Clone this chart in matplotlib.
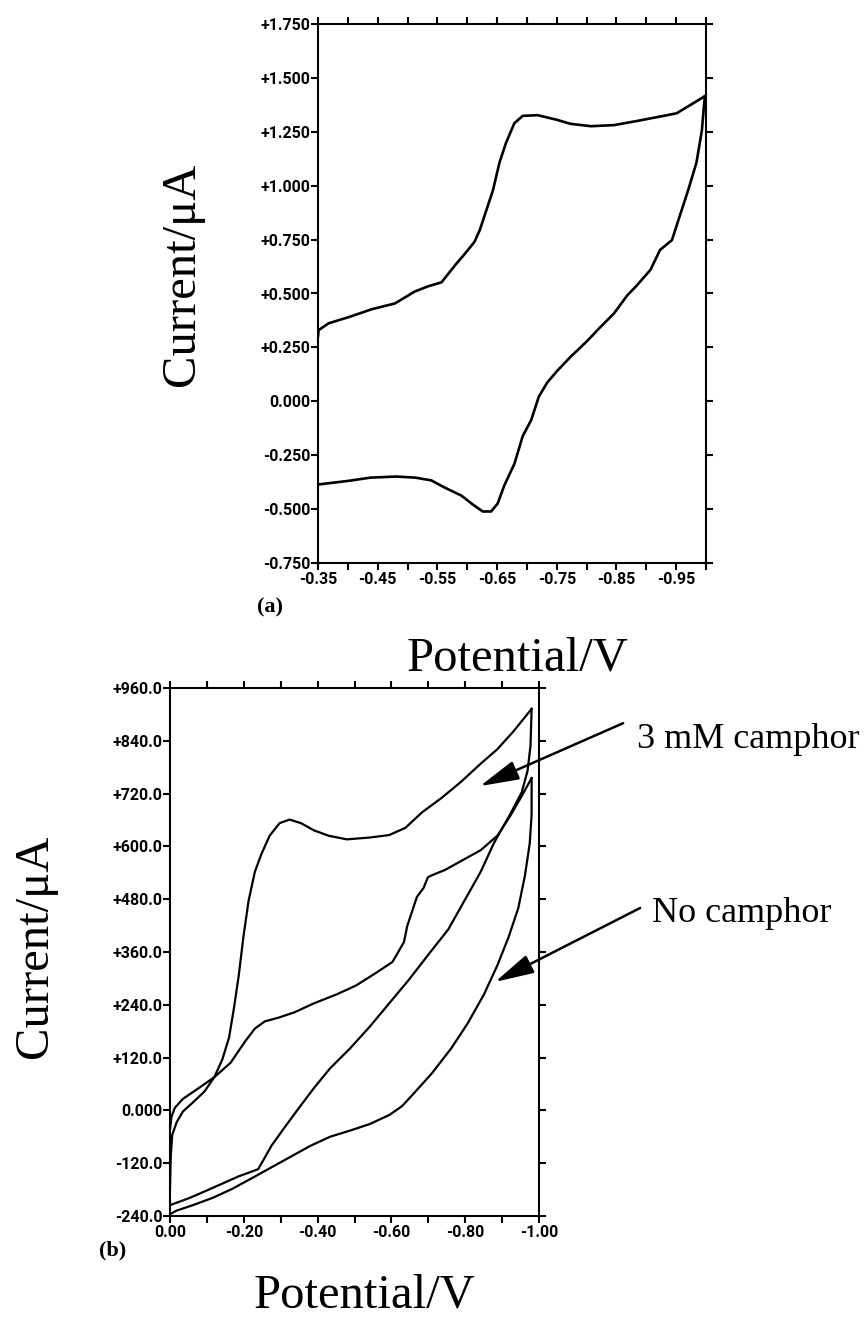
import matplotlib.pyplot as plt

# ---- panel (a): single CV, potential in V, current in uA ----
a_fwd_v = [-0.350, -0.351, -0.368, -0.401, -0.440, -0.479, -0.512, -0.534, -0.557, -0.579,
           -0.596, -0.612, -0.621, -0.632, -0.643, -0.654, -0.665, -0.679, -0.693,
           -0.718, -0.751, -0.773, -0.807, -0.846, -0.884, -0.918, -0.951, -0.973, -0.998]
a_fwd_i = [0.300, 0.330, 0.362, 0.390, 0.427, 0.454, 0.509, 0.533, 0.552, 0.629,
           0.684, 0.739, 0.794, 0.886, 0.978, 1.107, 1.199, 1.290, 1.324,
           1.327, 1.305, 1.287, 1.276, 1.281, 1.300, 1.318, 1.336, 1.373, 1.415]

a_rev_v = [-0.998, -0.993, -0.984, -0.970, -0.957, -0.943, -0.923, -0.907, -0.884,
           -0.868, -0.846, -0.823, -0.801, -0.773, -0.751, -0.734, -0.720, -0.707,
           -0.693, -0.679, -0.662, -0.651, -0.640, -0.626, -0.609, -0.590, -0.562,
           -0.540, -0.513, -0.481, -0.438, -0.401, -0.350]
a_rev_i = [1.415, 1.254, 1.107, 0.978, 0.868, 0.748, 0.702, 0.610, 0.537,
           0.491, 0.408, 0.344, 0.280, 0.206, 0.142, 0.087, 0.022, -0.088,
           -0.161, -0.290, -0.391, -0.474, -0.511, -0.511, -0.478, -0.437, -0.400,
           -0.367, -0.354, -0.349, -0.354, -0.369, -0.386]

a_xticks = [-0.35, -0.45, -0.55, -0.65, -0.75, -0.85, -0.95]
a_xlabels = ['-0.35', '-0.45', '-0.55', '-0.65', '-0.75', '-0.85', '-0.95']
a_xminor = [-0.40, -0.50, -0.60, -0.70, -0.80, -0.90, -1.00]
a_yticks = [1.75, 1.5, 1.25, 1.0, 0.75, 0.5, 0.25, 0.0, -0.25, -0.5, -0.75]
a_ylabels = ['+1.750', '+1.500', '+1.250', '+1.000', '+0.750', '+0.500', '+0.250',
             '0.000', '-0.250', '-0.500', '-0.750']

# ---- panel (b): with and without camphor ----
camph_fwd_v = [0.000, -0.002, -0.006, -0.018, -0.035, -0.062, -0.093, -0.120, -0.142,
               -0.160, -0.173, -0.186, -0.199, -0.213, -0.230, -0.248, -0.270, -0.297,
               -0.324, -0.355, -0.390, -0.430, -0.479, -0.541, -0.594, -0.638, -0.683,
               -0.736, -0.789, -0.842, -0.887, -0.931, -0.980]
camph_fwd_i = [-178.6, -104.8, -55.7, -27.0, -2.5, 18.0, 42.6, 75.4, 116.3,
               165.5, 231.0, 304.7, 394.8, 476.7, 542.3, 583.2, 624.2, 652.8,
               661.0, 652.8, 636.5, 624.2, 616.0, 620.1, 625.8, 642.2, 677.4,
               710.2, 747.0, 788.0, 820.8, 861.7, 912.5]

camph_rev_v = [-0.980, -0.977, -0.969, -0.953, -0.922, -0.878, -0.842, -0.798, -0.754,
               -0.700, -0.647, -0.594, -0.541, -0.488, -0.434, -0.390, -0.346, -0.310,
               -0.275, -0.253, -0.239, -0.213, -0.186, -0.142, -0.098, -0.053, 0.000]
camph_rev_i = [912.5, 829.0, 771.6, 722.5, 673.3, 607.8, 542.3, 476.7, 411.2,
               353.9, 296.5, 243.3, 190.0, 140.9, 95.8, 50.8, 1.7, -39.3,
               -80.3, -113.0, -133.5, -141.7, -149.9, -166.3, -182.6, -199.0, -215.4]

none_fwd_v = [0.000, -0.004, -0.013, -0.035, -0.071, -0.120, -0.164, -0.204, -0.230,
              -0.257, -0.293, -0.337, -0.390, -0.452, -0.505, -0.559, -0.603, -0.634,
              -0.643, -0.656, -0.669, -0.687, -0.699, -0.709, -0.745, -0.789, -0.842,
              -0.887, -0.922, -0.953, -0.980]
none_fwd_i = [-43.4, -14.7, 5.8, 26.2, 46.7, 75.4, 108.1, 157.3, 185.9,
              202.3, 210.5, 222.8, 243.3, 263.8, 284.2, 312.9, 337.5, 382.5,
              419.4, 452.2, 484.9, 505.4, 530.0, 534.1, 546.4, 566.8, 591.4,
              624.2, 669.2, 714.3, 755.2]

none_rev_v = [-0.980, -0.980, -0.975, -0.962, -0.944, -0.918, -0.887, -0.851, -0.807,
              -0.762, -0.709, -0.665, -0.629, -0.594, -0.541, -0.488, -0.434, -0.381,
              -0.328, -0.275, -0.222, -0.168, -0.115, -0.062, -0.018, 0.000]
none_rev_i = [755.2, 673.3, 607.8, 534.1, 460.3, 394.8, 329.3, 263.8, 198.2,
              140.9, 83.6, 42.6, 9.8, -10.6, -31.1, -45.9, -59.8, -80.3,
              -104.8, -129.4, -154.0, -178.6, -199.0, -215.4, -227.7, -235.9]

b_xticks = [0.0, -0.2, -0.4, -0.6, -0.8, -1.0]
b_xlabels = ['0.00', '-0.20', '-0.40', '-0.60', '-0.80', '-1.00']
b_xminor = [-0.1, -0.3, -0.5, -0.7, -0.9]
b_yticks = [960, 840, 720, 600, 480, 360, 240, 120, 0, -120, -240]
b_ylabels = ['+960.0', '+840.0', '+720.0', '+600.0', '+480.0', '+360.0', '+240.0',
             '+120.0', '0.000', '-120.0', '-240.0']

W, H = 867, 1319
TICK_FONT = dict(family=['Liberation Sans Narrow', 'Roboto', 'DejaVu Sans'],
                 weight='bold', size=11.5)
SERIF = ['Liberation Serif', 'DejaVu Serif']

fig = plt.figure(figsize=(W / 100, H / 100), dpi=100)


def add_axes_px(left, top, right, bottom):
    return fig.add_axes([left / W, 1 - bottom / H, (right - left) / W, (bottom - top) / H])


def style_axes(ax, xt, xl, xm, yt, yl):
    ax.set_xticks(xt)
    ax.set_xticklabels(xl, **TICK_FONT)
    ax.set_xticks(xm, minor=True)
    ax.set_yticks(yt)
    ax.set_yticklabels(yl, **TICK_FONT)
    ax.tick_params(which='both', direction='out', length=5, width=1.5,
                   top=True, right=True, labeltop=False, labelright=False)
    ax.tick_params(axis='x', pad=1.5)
    ax.tick_params(axis='y', pad=0.5)
    for s in ax.spines.values():
        s.set_linewidth(1.5)


def fig_text(x, y, s, **kw):
    fig.text(x / W, 1 - y / H, s, **kw)


# panel (a)
ax1 = add_axes_px(318, 24, 706, 563)
ax1.plot(a_fwd_v, a_fwd_i, color='black', lw=1.9)
ax1.plot(a_rev_v, a_rev_i, color='black', lw=1.9)
ax1.set_xlim(-0.35, -1.0)
ax1.set_ylim(-0.75, 1.75)
style_axes(ax1, a_xticks, a_xlabels, a_xminor, a_yticks, a_ylabels)

# panel (b)
ax2 = add_axes_px(170, 688, 539, 1216)
ax2.plot(camph_fwd_v, camph_fwd_i, color='black', lw=1.6)
ax2.plot(camph_rev_v, camph_rev_i, color='black', lw=1.6)
ax2.plot(none_fwd_v, none_fwd_i, color='black', lw=1.6)
ax2.plot(none_rev_v, none_rev_i, color='black', lw=1.6)
ax2.set_xlim(0.0, -1.0)
ax2.set_ylim(-240, 960)
style_axes(ax2, b_xticks, b_xlabels, b_xminor, b_yticks, b_ylabels)

arrow = dict(arrowstyle='-|>,head_length=1.2,head_width=0.3', mutation_scale=20,
             lw=1.8, color='black', shrinkA=0, shrinkB=0)
ax2.annotate('', xy=(-0.840, 737), xytext=(-1.228, 880), arrowprops=arrow,
             annotation_clip=False)
ax2.annotate('', xy=(-0.881, 292), xytext=(-1.274, 460), arrowprops=arrow,
             annotation_clip=False)
ax2.text(-1.266, 824, '3 mM camphor', family=SERIF, fontsize=26, ha='left',
         va='baseline', clip_on=False)
ax2.text(-1.306, 428, 'No camphor', family=SERIF, fontsize=26, ha='left',
         va='baseline', clip_on=False)

# axis titles and panel letters
fig_text(182, 274, 'Current/\u03bcA', family=SERIF, fontsize=35, rotation=90,
         ha='center', va='center')
fig_text(517, 671, 'Potential/V', family=SERIF, fontsize=35, ha='center', va='baseline')
fig_text(270, 607, '(a)', family=SERIF, fontsize=16, weight='bold', ha='center', va='center')

fig_text(35, 946, 'Current/\u03bcA', family=SERIF, fontsize=35, rotation=90,
         ha='center', va='center')
fig_text(364, 1308, 'Potential/V', family=SERIF, fontsize=35, ha='center', va='baseline')
fig_text(113, 1250, '(b)', family=SERIF, fontsize=16, weight='bold', ha='center', va='center')

fig.savefig('out.png', dpi=100)
plt.close(fig)
